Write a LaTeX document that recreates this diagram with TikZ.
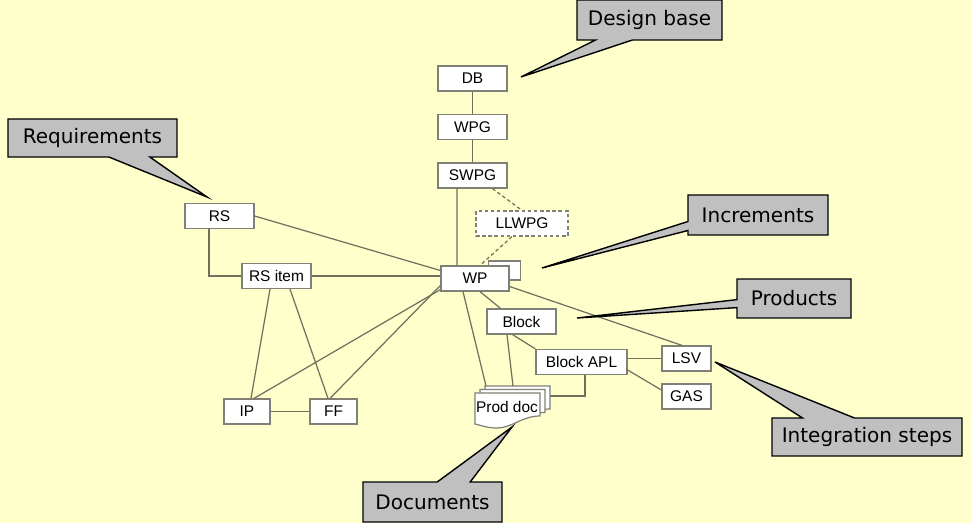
\documentclass[tikz,border=0pt]{standalone}
\usepackage{fontspec}
\newfontfamily\boxfont{Liberation Sans}
\newfontfamily\notefont{DejaVu Sans}
\usetikzlibrary{shapes}
\definecolor{bgyellow}{RGB}{255,255,204}
\definecolor{linec}{RGB}{112,112,92}
\definecolor{boxc}{RGB}{128,128,118}
\definecolor{notegray}{RGB}{192,192,192}

\begin{document}
\begin{tikzpicture}[x=0.02cm, y=-0.02cm,
    box/.style = {draw=boxc, fill=white, line width=0.7pt, minimum height=0.5cm, inner sep=1pt,
                  font=\boxfont\fontsize{8.8}{10}\selectfont},
    page/.style = {draw=boxc, fill=white, line width=0.7pt},
    link/.style = {draw=linec, line width=0.7pt},
    note/.style = {rectangle callout, draw=black, fill=notegray, line width=0.8pt, inner sep=0pt,
                   font=\notefont\fontsize{11.4}{13}\selectfont}]
    \fill[bgyellow] (0,0) rectangle (971,523);
    \useasboundingbox (0,0) rectangle (971,523);

    % Nodes
    \node[box, minimum width=1.38cm] (db) at (472.5, 78.5) {DB};
    \node[box, minimum width=1.38cm] (wpg) at (472.5, 127) {WPG};
    \node[box, minimum width=1.38cm] (swpg) at (472.5, 175.5) {SWPG};
    \node[box, minimum width=1.84cm, dash pattern=on 2pt off 1.5pt] (llwpg) at (522, 223.5) {LLWPG};
    \node[box, minimum width=0.64cm, minimum height=0.38cm] (wpinc) at (504.5, 270.5) {};
    \node[box, minimum width=1.36cm] (wp) at (475, 278.5) {WP};
    \node[box, minimum width=1.38cm] (rs) at (219.5, 216) {RS};
    \node[box, minimum width=1.38cm] (rsitem) at (276.5, 276) {RS item};
    \node[box, minimum width=0.92cm] (ip) at (247, 411.5) {IP};
    \node[box, minimum width=0.94cm] (ff) at (333.5, 411.5) {FF};
    \node[box, minimum width=1.38cm] (block) at (521.5, 321.5) {Block};
    \node[box, minimum width=1.82cm] (blockapl) at (581.5, 362) {Block APL};
    \node[box, minimum width=0.98cm] (lsv) at (686.5, 358.5) {LSV};
    \node[box, minimum width=0.98cm] (gas) at (686.5, 396.5) {GAS};

    % Prod doc pile
    \foreach \d in {10,5,0}
        \draw[page, shift={(\d,-0.7*\d)}] (475,393) -- (540,393) -- (540,416)
            .. controls (522,416) and (512,428) .. (497,428)
            .. controls (487,428) and (480,425) .. (475,424) -- cycle;
    \node[font=\boxfont\fontsize{8.8}{10}\selectfont, inner sep=0pt] (proddoc) at (507, 407) {Prod doc};
    \coordinate (pd1) at (486, 386);
    \coordinate (pd2) at (513, 386);
    \coordinate (pd3) at (550, 396);

    % Edges
    \draw[link] (db) -- (wpg);
    \draw[link] (wpg) -- (swpg);
    \draw[link] ([xshift=-0.31cm]swpg.south) -- ([xshift=-0.36cm]wp.north);
    \draw[link, dash pattern=on 2pt off 1.5pt] ([xshift=0.4cm]swpg.south) -- (llwpg.north);
    \draw[link, dash pattern=on 2pt off 1.5pt] ([xshift=-0.2cm]llwpg.south) -- ([xshift=0.1cm]wp.north);
    \draw[link] (rs.east) -- ([yshift=0.16cm]wp.west);
    \draw[link] ([xshift=-0.21cm]rs.south) |- (rsitem.west);
    \draw[link] (rsitem.east) -- (rsitem.east -| wp.west);
    \draw[link] ([xshift=-0.13cm]rsitem.south) -- ([xshift=0.08cm]ip.north);
    \draw[link] ([xshift=0.27cm]rsitem.south) -- ([xshift=-0.11cm]ff.north);
    \draw[link] (ip) -- (ff);
    \draw[link] ([yshift=0.04cm]wp.south west) -- ([xshift=0.14cm]ip.north);
    \draw[link] ([yshift=-0.14cm]wp.west) -- ([xshift=-0.07cm]ff.north);
    \draw[link] ([xshift=-0.24cm]wp.south) -- (pd1);
    \draw[link] ([xshift=0.1cm]wp.south) -- ([xshift=-0.42cm]block.north);
    \draw[link] ([yshift=-0.16cm]wp.east) -- ([xshift=-0.09cm]lsv.north);
    \draw[link] ([xshift=-0.29cm]block.south) -- (pd2);
    \draw[link] ([xshift=-0.18cm]block.south) -- (blockapl.north west);
    \draw[link] (lsv.west -| blockapl.east) -- (lsv.west);
    \draw[link] ([yshift=-0.16cm]blockapl.east) -- ([yshift=0.13cm]gas.west);
    \draw[link] ([xshift=0.07cm]blockapl.south) |- (pd3);

    % Callouts
    \coordinate (dbtip) at (521, 77);
    \coordinate (rstip) at (207, 197);
    \coordinate (inctip) at (542, 268);
    \coordinate (prodtip) at (577, 318);
    \coordinate (inttip) at (715, 362);
    \coordinate (doctip) at (512, 427);
    \node[note, minimum width=2.9cm, minimum height=0.8cm, callout absolute pointer={(dbtip)},
          callout pointer width=0.74cm] (dbnote) at (649.5, 20) {Design base};
    \node[note, minimum width=3.38cm, minimum height=0.76cm, callout absolute pointer={(rstip)},
          callout pointer width=0.82cm] (rsnote) at (92.5, 138) {Requirements};
    \node[note, minimum width=2.8cm, minimum height=0.8cm, callout absolute pointer={(inctip)},
          callout pointer width=0.18cm] (incnote) at (758, 215) {Increments};
    \node[note, minimum width=2.28cm, minimum height=0.78cm, callout absolute pointer={(prodtip)},
          callout pointer width=0.16cm] (prodnote) at (794, 298.5) {Products};
    \node[note, minimum width=3.8cm, minimum height=0.76cm, callout absolute pointer={(inttip)},
          callout pointer width=1.04cm] (intnote) at (867, 437) {Integration steps};
    \node[note, minimum width=2.78cm, minimum height=0.8cm, callout absolute pointer={(doctip)},
          callout pointer width=0.66cm] (docnote) at (432.5, 502) {Documents};
\end{tikzpicture}
\end{document}
